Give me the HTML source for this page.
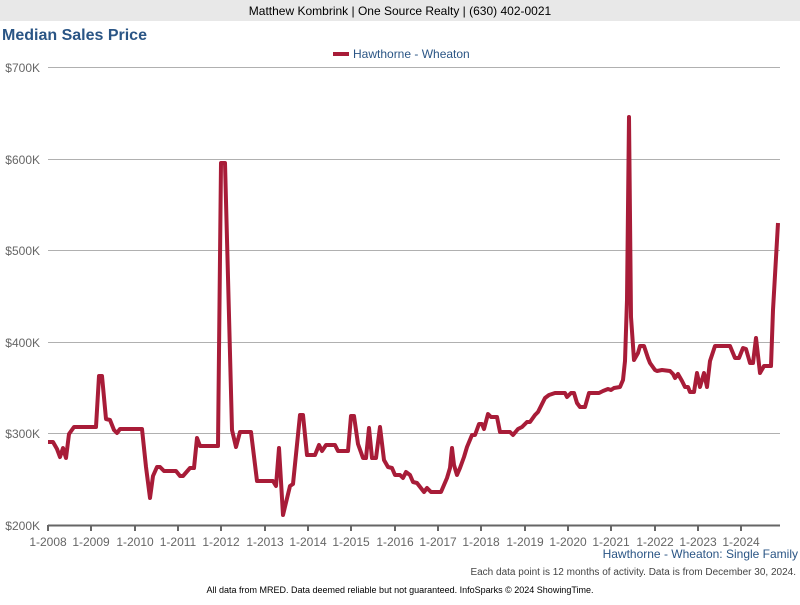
<!DOCTYPE html>
<html><head><style>
body{margin:0;width:800px;height:600px;background:#fff;font-family:"Liberation Sans",sans-serif;overflow:hidden}
</style></head><body>
<svg width="800" height="600" xmlns="http://www.w3.org/2000/svg" font-family="Liberation Sans, sans-serif">
<rect x="0" y="0" width="800" height="21" fill="#e8e8e8"/>
<text x="400" y="15" text-anchor="middle" font-size="12" fill="#000">Matthew Kombrink | One Source Realty | (630) 402-0021</text>
<text x="2" y="40" font-size="16" font-weight="bold" fill="#2a5585">Median Sales Price</text>
<line x1="333" y1="54" x2="349" y2="54" stroke="#a81c38" stroke-width="4"/>
<text x="353" y="58" font-size="12" fill="#2a5585">Hawthorne - Wheaton</text>
<g stroke="#b0b0b0" stroke-width="1">
<line x1="48" y1="67.5" x2="780" y2="67.5"/><line x1="48" y1="159.5" x2="780" y2="159.5"/>
<line x1="48" y1="250.5" x2="780" y2="250.5"/><line x1="48" y1="342.5" x2="780" y2="342.5"/>
<line x1="48" y1="433.5" x2="780" y2="433.5"/>
</g>
<g font-size="12" fill="#666" text-anchor="end">
<text x="40" y="72">$700K</text><text x="40" y="164">$600K</text><text x="40" y="255">$500K</text>
<text x="40" y="347">$400K</text><text x="40" y="438">$300K</text><text x="40" y="530">$200K</text>
</g>
<line x1="48" y1="525.5" x2="780" y2="525.5" stroke="#666" stroke-width="2"/>
<g stroke="#666" stroke-width="2">
<line x1="48" y1="525" x2="48" y2="531"/><line x1="91" y1="525" x2="91" y2="531"/><line x1="135" y1="525" x2="135" y2="531"/><line x1="178" y1="525" x2="178" y2="531"/><line x1="221" y1="525" x2="221" y2="531"/><line x1="265" y1="525" x2="265" y2="531"/><line x1="308" y1="525" x2="308" y2="531"/><line x1="351" y1="525" x2="351" y2="531"/><line x1="395" y1="525" x2="395" y2="531"/><line x1="438" y1="525" x2="438" y2="531"/><line x1="481" y1="525" x2="481" y2="531"/><line x1="525" y1="525" x2="525" y2="531"/><line x1="568" y1="525" x2="568" y2="531"/><line x1="611" y1="525" x2="611" y2="531"/><line x1="655" y1="525" x2="655" y2="531"/><line x1="698" y1="525" x2="698" y2="531"/><line x1="741" y1="525" x2="741" y2="531"/>
</g>
<g font-size="12" fill="#666" text-anchor="middle">
<text x="48" y="546">1-2008</text><text x="91" y="546">1-2009</text><text x="135" y="546">1-2010</text><text x="178" y="546">1-2011</text><text x="221" y="546">1-2012</text><text x="265" y="546">1-2013</text><text x="308" y="546">1-2014</text><text x="351" y="546">1-2015</text><text x="395" y="546">1-2016</text><text x="438" y="546">1-2017</text><text x="481" y="546">1-2018</text><text x="525" y="546">1-2019</text><text x="568" y="546">1-2020</text><text x="611" y="546">1-2021</text><text x="655" y="546">1-2022</text><text x="698" y="546">1-2023</text><text x="741" y="546">1-2024</text>
</g>
<polyline fill="none" stroke="#a81c38" stroke-width="4" stroke-linejoin="round" points="48,442 53,442 57,449 60,457 63,448 66,458 69,434 74,427 96,427 99,376 102,376 106,419 110,420 114,430 117,433 120,429 142,429 146,467 150,498 153,476 157,467 160,467 164,471 176,471 180,476 183,476 190,468 194,468 197,438 200,446 218,446 221,163 225,163 232,430 236,447 240,432 251,432 257,481 273,481 276,486 279,448 283,515 290,486 293,484 300,415 303,415 307,455 315,455 319,445 322,451 326,445 335,445 338,451 348,451 351,416 354,416 358,444 363,458 366,458 369,428 372,458 376,458 380,427 384,460 388,467 392,468 395,475 400,475 403,478 406,472 410,475 413,482 417,483 424,492 427,488 431,492 441,492 447,478 450,468 452,448 454,465 457,475 460,468 464,457 467,447 472,435 475,435 479,424 482,424 484,429 488,414 491,417 497,417 500,432 510,432 513,435 518,429 522,427 527,422 530,422 535,415 538,412 545,398 549,395 555,393 565,393 567,397 571,393 574,393 577,403 580,407 585,407 589,393 599,393 603,391 608,389 611,390 614,388 620,387 623,380 625,361 627,300 629,117 631,317 634,360 638,353 640,346 644,346 648,358 650,363 655,370 657,371 662,370 670,371 673,374 675,378 678,374 682,381 685,387 688,387 690,392 694,392 697,373 700,387 704,373 707,387 710,361 715,346 730,346 735,358 739,358 743,348 746,349 750,363 753,363 756,338 760,373 764,366 771,366 773,310 778,223"/>
<text x="798" y="558" text-anchor="end" font-size="12" fill="#2a5585">Hawthorne - Wheaton: Single Family</text>
<text x="796" y="575" text-anchor="end" font-size="10" fill="#444">Each data point is 12 months of activity. Data is from December 30, 2024.</text>
<text x="400" y="593" text-anchor="middle" font-size="9" fill="#000">All data from MRED. Data deemed reliable but not guaranteed. InfoSparks © 2024 ShowingTime.</text>
</svg>
</body></html>
